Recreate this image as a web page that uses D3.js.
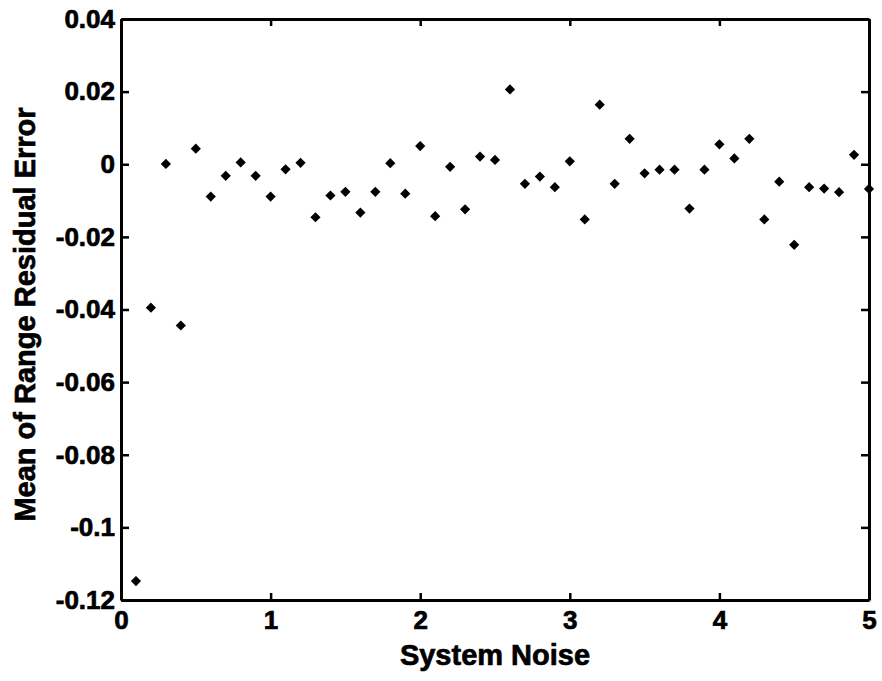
<!DOCTYPE html>
<html>
<head>
<meta charset="utf-8">
<script src="https://cdn.jsdelivr.net/npm/d3@7"></script>
<style>
  body { margin: 0; background: #fff; }
  svg { display: block; }
  text { font-family: "Liberation Sans", Arial, sans-serif; font-weight: bold; fill: #000; stroke: #000; stroke-width: 0.7px; }
</style>
</head>
<body>
<svg id="svg"></svg>
<script>
// system noise levels (x)
var noise = [0.1, 0.2, 0.3, 0.4, 0.5, 0.6, 0.7, 0.8, 0.9, 1.0,
             1.1, 1.2, 1.3, 1.4, 1.5, 1.6, 1.7, 1.8, 1.9, 2.0,
             2.1, 2.2, 2.3, 2.4, 2.5, 2.6, 2.7, 2.8, 2.9, 3.0,
             3.1, 3.2, 3.3, 3.4, 3.5, 3.6, 3.7, 3.8, 3.9, 4.0,
             4.1, 4.2, 4.3, 4.4, 4.5, 4.6, 4.7, 4.8, 4.9, 5.0];
// mean of range residual error (y)
var meanErr = [-0.1148, -0.0395, 0.0001, -0.0444, 0.0043, -0.0089, -0.0032, 0.0005, -0.0032, -0.0089,
               -0.0014, 0.0004, -0.0146, -0.0086, -0.0076, -0.0133, -0.0076, 0.0003, -0.0081, 0.0050,
               -0.0143, -0.0007, -0.0124, 0.0021, 0.0012, 0.0206, -0.0054, -0.0034, -0.0063, 0.0008,
               -0.0152, 0.0164, -0.0054, 0.0070, -0.0025, -0.0015, -0.0015, -0.0122, -0.0015, 0.0055,
               0.0016, 0.0070, -0.0152, -0.0048, -0.0222, -0.0063, -0.0067, -0.0077, 0.0026, -0.0068];

var xTicks = [0, 1, 2, 3, 4, 5];
var xTickLabels = ["0", "1", "2", "3", "4", "5"];
var yTicks = [0.04, 0.02, 0, -0.02, -0.04, -0.06, -0.08, -0.1, -0.12];
var yTickLabels = ["0.04", "0.02", "0", "-0.02", "-0.04", "-0.06", "-0.08", "-0.1", "-0.12"];

var W = 882, H = 681;
var margin = {left: 121, right: 13, top: 19, bottom: 81};

var svg = d3.select("#svg").attr("width", W).attr("height", H);

var xScale = d3.scaleLinear().domain([0, 5]).range([margin.left, W - margin.right]);
var yScale = d3.scaleLinear().domain([-0.12, 0.04]).range([H - margin.bottom, margin.top]);

var points = noise.map((d, i) => ({x: d, y: meanErr[i]}));

// markers (filled diamonds)
svg.append("g")
    .selectAll("path")
    .data(points)
    .join("path")
    .attr("d", d3.symbol().type(d3.symbolSquare).size(52))
    .attr("transform", d => `translate(${xScale(d.x)},${yScale(d.y)}) rotate(45)`)
    .attr("fill", "#000");

function styleAxis(g) {
    g.selectAll(".domain").attr("stroke", "#000").attr("stroke-width", 3);
    g.selectAll(".tick line").attr("stroke", "#000").attr("stroke-width", 2.5);
    g.selectAll(".tick text").style("font-size", "26px").attr("fill", "#000");
}

var xb = svg.append("g")
    .attr("transform", `translate(0,${H - margin.bottom})`)
    .call(d3.axisBottom(xScale).tickValues(xTicks)
        .tickFormat((d, i) => xTickLabels[i])
        .tickSize(-7).tickSizeOuter(0).tickPadding(11));
styleAxis(xb);

var xt = svg.append("g")
    .attr("transform", `translate(0,${margin.top})`)
    .call(d3.axisTop(xScale).tickValues(xTicks).tickFormat("")
        .tickSize(-7).tickSizeOuter(0));
styleAxis(xt);

var yl = svg.append("g")
    .attr("transform", `translate(${margin.left},0)`)
    .call(d3.axisLeft(yScale).tickValues(yTicks)
        .tickFormat((d, i) => yTickLabels[i])
        .tickSize(-8).tickSizeOuter(0).tickPadding(6));
styleAxis(yl);

var yr = svg.append("g")
    .attr("transform", `translate(${W - margin.right},0)`)
    .call(d3.axisRight(yScale).tickValues(yTicks).tickFormat("")
        .tickSize(-8).tickSizeOuter(0));
styleAxis(yr);

// titles
svg.append("text")
    .attr("x", (xScale(0) + xScale(5)) / 2)
    .attr("y", 665)
    .attr("text-anchor", "middle")
    .style("font-size", "29px")
    .text("System Noise");

svg.append("text")
    .attr("transform", `translate(35,${(yScale(-0.12) + yScale(0.04)) / 2 + 5}) rotate(-90)`)
    .attr("text-anchor", "middle")
    .style("font-size", "29px")
    .text("Mean of Range Residual Error");
</script>
</body>
</html>
